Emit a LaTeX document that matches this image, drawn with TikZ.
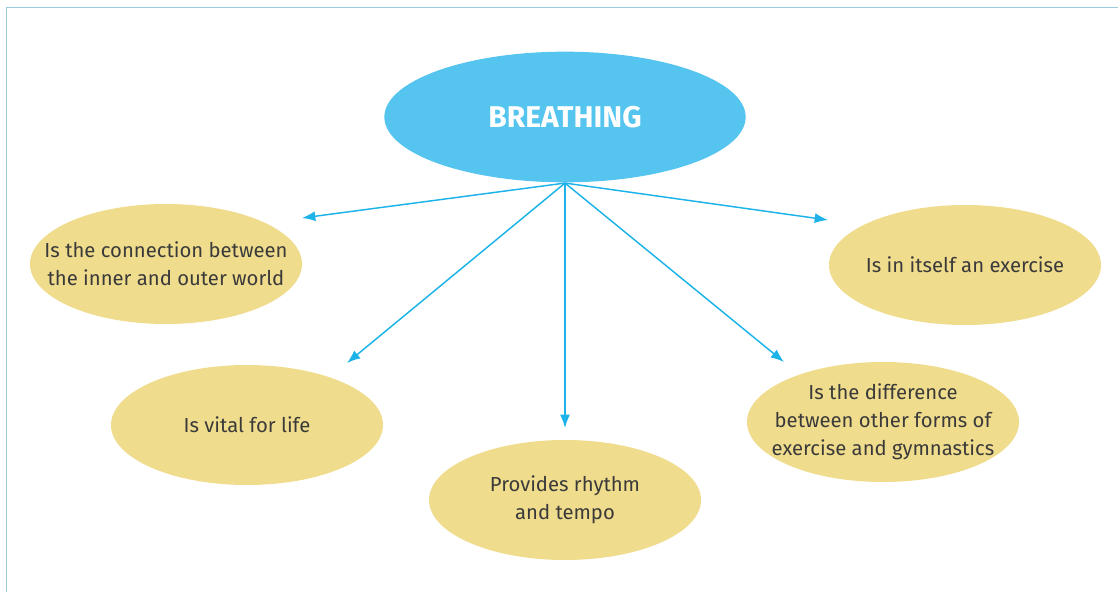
\documentclass[tikz,border=0pt]{standalone}
\usepackage{fontspec}
\setmainfont{Fira Sans}
\usepackage{tikz}
\usetikzlibrary{shapes,arrows.meta,positioning}

\definecolor{skyblue}{HTML}{55C5F0}
\definecolor{arrowblue}{HTML}{1DB3E8}
\definecolor{sand}{HTML}{F0DC8D}
\definecolor{frameblue}{HTML}{9EC9DD}
\definecolor{textgray}{HTML}{3A3A3A}

\begin{document}
\begin{tikzpicture}[x=0.75pt, y=-0.75pt,
-{Latex[length=10pt,width=7.5pt]}, line width = 1.1pt,
idea/.style={ellipse, fill=sand, text=textgray, minimum width=204pt,
  minimum height=90pt, inner xsep=-40pt, inner ysep=-20pt, align=center,
  font=\fontsize{15.2}{21}\selectfont},
hub/.style={ellipse, fill=skyblue, text=white, minimum width=271pt,
  minimum height=98pt, inner sep=0pt,
  font=\fontsize{22.5}{28}\selectfont\bfseries},
link/.style={draw=arrowblue}]

\useasboundingbox (0,0) rectangle (1118,592);
\draw [-, frameblue, line width=1.1pt] (6.5,592) -- (6.5,7.5) -- (1118,7.5);

\node [hub] (breath) at (565,117) {BREATHING};

\node [idea] (world) at (166,264) {Is the connection between\\the inner and outer world};
\node [idea] (life) at (247,425) {Is vital for life};
\node [idea] (rhythm) at (565,500) {Provides rhythm\\and tempo};
\node [idea] (gym) at (883,422) {Is the difference\\between other forms of\\exercise and gymnastics};
\node [idea] (itself) at (965,265) {Is in itself an exercise};

\coordinate (toworld) at (302,218);
\coordinate (tolife) at (347,363);
\coordinate (torhythm) at (565,428);
\coordinate (togym) at (784,362);
\coordinate (toitself) at (828,220);

\path (breath.south) edge [link] (toworld);
\path (breath.south) edge [link] (tolife);
\path (breath.south) edge [link] (torhythm);
\path (breath.south) edge [link] (togym);
\path (breath.south) edge [link] (toitself);

\end{tikzpicture}
\end{document}
